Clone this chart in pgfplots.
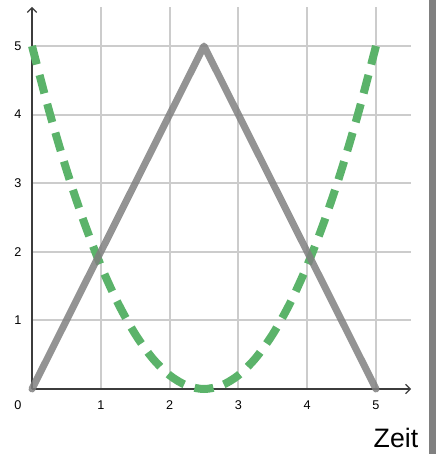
\documentclass[border=0pt]{standalone}
\usepackage{pgfplots}
\pgfplotsset{compat=1.18}
\usetikzlibrary{arrows.meta}
\usepackage{fontspec}
\setmainfont{Liberation Sans}
\definecolor{lgreen}{HTML}{5BB36A}
\definecolor{lgray}{HTML}{808080}
\definecolor{axdark}{HTML}{3C3C3C}
\begin{document}
\begin{tikzpicture}
\begin{axis}[
  anchor=origin, at={(0pt,0pt)},
  x=51.6pt, y=51.45pt,
  xmin=0, xmax=5.51, ymin=0, ymax=5.57,
  axis lines=left,
  axis line style={axdark, line width=0.9pt, -{Straight Barb[length=3.5pt,width=7pt]}},
  xtick={1,2,3,4,5}, ytick={1,2,3,4,5},
  major tick length=0pt,
  grid=major,
  major grid style={line width=1.5pt, color=gray!40},
  tick label style={font=\fontsize{9.5}{11}\selectfont},
  /pgf/number format/assume math mode=true,
  xticklabel style={anchor=center, yshift=-12pt},
  yticklabel style={anchor=center, xshift=-10.5pt},
  clip=false,
]
% parabola, dashed
\addplot[lgreen, line width=6pt, smooth, dash pattern=on 14.25pt off 8.2pt] coordinates {
  (0,5) (0.25,4.05) (0.5,3.2) (0.75,2.45) (1,1.8) (1.25,1.25) (1.5,0.8)
  (1.75,0.45) (2,0.2) (2.25,0.05) (2.5,0) (2.75,0.05) (3,0.2) (3.25,0.45)
  (3.5,0.8) (3.75,1.25) (4,1.8) (4.25,2.45) (4.5,3.2) (4.75,4.05) (5,5)};
% triangle
\addplot[lgray, draw opacity=0.85, line width=5.25pt, line cap=round, line join=round] coordinates {
  (0,0) (2.5,5) (5,0)};
\node at (axis cs:0,0) [xshift=-10.5pt, yshift=-12pt, font=\fontsize{9.5}{11}\selectfont] {0};
\end{axis}
\node[anchor=base west, font=\fontsize{20}{24}\selectfont] at (252.75pt,-43.5pt) {Zeit};
\fill[lgray] (297.75pt,-48.75pt) rectangle (303pt,291.75pt);
\pgfresetboundingbox
\path[use as bounding box] (-24pt,-48.75pt) rectangle (303pt,291.75pt);
\end{tikzpicture}
\end{document}
